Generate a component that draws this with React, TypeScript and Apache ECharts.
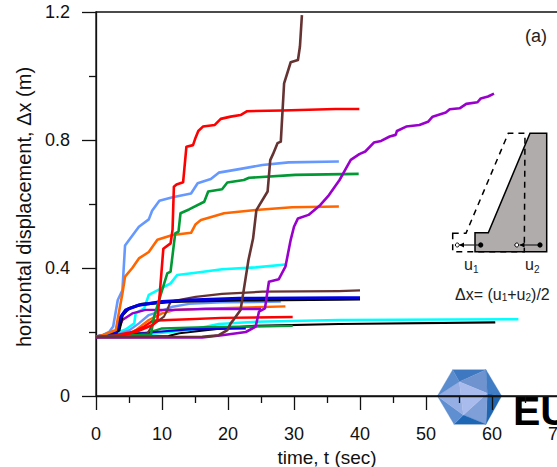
import React, { useEffect, useRef } from "react";
import * as echarts from "echarts";

const FONT = '"Liberation Sans", Arial, sans-serif';

const redLarge = [[0,.185],[2,.187],[4,.19],[6,.2],[8.6,.222],[9.3,.2375],[9.7,.33],[10.2,.46],[11.3,.477],[11.6,.52],[11.8,.654],[12.2,.661],[13.2,.668],[13.7,.779],[14.7,.784],[15.1,.808],[15.5,.828],[16.2,.842],[18,.847],[18.9,.866],[20.4,.873],[21.9,.878],[22.9,.89],[28.2,.892],[36.3,.897],[39.9,.897]];
const lightBlueLarge = [[0,.185],[1,.19],[2,.2],[2.6,.217],[3.3,.3],[4,.33],[4.4,.47],[5.1,.49],[6.5,.529],[8,.552],[8.5,.579],[9.6,.61],[11.6,.621],[14.4,.633],[15.4,.665],[17.4,.678],[18.6,.698],[21.7,.709],[25.2,.722],[29.2,.73],[36.8,.733]];
const greenLarge = [[0,.185],[4,.19],[8.3,.19],[8.8,.248],[9.8,.316],[10.8,.383],[11.3,.389],[12,.508],[12.5,.514],[12.8,.571],[14.1,.583],[16.4,.607],[17,.639],[19.1,.646],[19.9,.667],[22.4,.675],[23.2,.682],[30.2,.691],[39.8,.694]];
const orangeLarge = [[0,.185],[1,.19],[3,.206],[3.5,.264],[4,.32],[4.4,.373],[5.5,.4],[6.5,.43],[8,.45],[9.3,.488],[11.6,.503],[14.4,.51],[15.1,.537],[15.9,.55],[17.6,.56],[19.4,.571],[24.2,.581],[29.7,.59],[36.8,.592]];
const cyanMid = [[0,.185],[2,.19],[4.5,.208],[5.8,.227],[6,.258],[7.3,.274],[8,.316],[9.6,.333],[11.3,.352],[12.3,.378],[15.1,.385],[19.1,.396],[24.2,.402],[28.7,.411]];
const brownThin = [[0,.185],[5,.188],[7.8,.196],[8.6,.222],[10.3,.248],[10.8,.269],[11.3,.295],[15.1,.31],[19.1,.319],[25.2,.326],[36.8,.328],[40,.33]];
const blueThick = [[0,.185],[1.5,.19],[3,.196],[3.6,.243],[4.5,.269],[6.5,.284],[10,.295],[14.1,.3],[21.7,.305],[36.8,.307],[40,.307]];
const blackThick = [[0,.185],[2,.19],[3.5,.206],[4,.253],[5,.274],[7,.287],[11.6,.295],[21.7,.3],[36.8,.302],[40,.303]];
const lightBlueSmall = [[0,.185],[3,.19],[5,.205],[6.5,.227],[8,.253],[9.6,.264],[11.6,.279],[14.1,.288],[19.1,.293],[25.7,.294],[28,.295]];
const orangeSmall = [[0,.185],[2,.188],[4.5,.19],[6,.206],[8,.2375],[10,.258],[12,.269],[16.6,.273],[28.7,.28]];
const purpleSmall = [[0,.185],[3,.19],[3.8,.227],[4,.2375],[5.5,.258],[7.5,.269],[11.6,.269],[16.6,.272],[25,.272]];
const redSmall = [[0,.185],[3,.19],[5.5,.2],[7.3,.217],[8.6,.235],[11,.2375],[14.1,.24],[19,.244],[29.8,.247]];
const cyanLong = [[0,.185],[5,.187],[8.6,.194],[14.1,.206],[18.6,.225],[24.2,.232],[36.8,.2375],[64,.24]];
const blackLong = [[0,.185],[11,.1875],[12.6,.196],[19,.211],[24,.219],[36.8,.225],[60.5,.23]];
const blueMid = [[0,.185],[4,.19],[9,.2],[14,.208],[22.7,.211]];
const greenSmall = [[0,.185],[4,.194],[8,.198],[10,.211],[16.6,.215],[29.8,.219]];
const purpleLarge = [[0,.183],[16.1,.183],[19.1,.19],[22.7,.2],[24.2,.217],[24.7,.264],[25.6,.274],[26.2,.357],[27.7,.365],[28.7,.404],[29.5,.488],[30,.529],[30.6,.555],[32.2,.566],[34,.597],[35.3,.628],[36.9,.675],[37.9,.712],[38.6,.738],[39.9,.756],[40.8,.764],[42.1,.792],[43.2,.797],[44.5,.811],[45.4,.816],[45.6,.828],[47,.842],[49,.847],[50.3,.857],[51,.873],[53,.886],[53.6,.896],[55.1,.899],[56.1,.913],[57.8,.918],[58.3,.93],[59.4,.936],[60.3,.945]];
const brownLarge = [[0,.184],[16.1,.185],[18.6,.19],[19.9,.206],[20.4,.227],[20.9,.24],[21.9,.269],[22.3,.32],[23.1,.425],[23.8,.492],[24.3,.581],[26,.639],[26.4,.737],[26.8,.755],[27.5,.79],[28,.795],[28.5,.977],[29.5,1.043],[30.6,1.05],[30.9,1.092],[31.2,1.19]];

const curves: [any[], string, number][] = [
  [blackLong, "#000000", 2.2],
  [cyanLong, "#00ffff", 2.4],
  [greenSmall, "#009933", 2.4],
  [blueMid, "#0000e0", 2.2],
  [cyanMid, "#00ffff", 2.6],
  [lightBlueSmall, "#6699ff", 2.4],
  [orangeSmall, "#ff6600", 2.4],
  [purpleSmall, "#9900cc", 2.4],
  [redSmall, "#ff0000", 2.4],
  [brownThin, "#663333", 2.2],
  [blackThick, "#000000", 3],
  [blueThick, "#0000e0", 3.2],
  [lightBlueLarge, "#6699ff", 2.6],
  [orangeLarge, "#ff6600", 2.6],
  [greenLarge, "#009933", 2.6],
  [redLarge, "#ff0000", 2.6],
  [purpleLarge, "#9900cc", 2.6],
  [brownLarge, "#663333", 2.6],
];

const logoFacets: [number[][], string][] = [
  [[[68,14],[168,14],[88,50]], "#3d78c0"],
  [[[168,14],[172,85],[88,50]], "#6e93cf"],
  [[[168,14],[215,93],[172,85]], "#3f7cc4"],
  [[[215,93],[168,178],[172,85]], "#1f65b0"],
  [[[172,85],[168,178],[100,150]], "#7f9fd8"],
  [[[168,178],[72,178],[100,150]], "#1d67b5"],
  [[[72,178],[22,93],[100,150]], "#5f8fd0"],
  [[[22,93],[88,50],[100,150]], "#95aee3"],
  [[[88,50],[172,85],[100,150]], "#a9bbec"],
  [[[22,93],[68,14],[88,50]], "#5b8ccd"],
];

export default function App() {
  const ref = useRef<HTMLDivElement>(null);
  useEffect(() => {
    document.body.style.margin = "0";
    const chart = echarts.init(ref.current!, undefined, { renderer: "svg" });
    const tickFont = { fontFamily: FONT, fontSize: 18, color: "#111" };
    const axisStyle = { lineStyle: { color: "#111", width: 1.3 } };
    const lab = (x: number, y: number, t: string, s: number) => ({
      type: "text", x, y, style: { text: t, fontFamily: FONT, fontSize: s, fill: "#222" },
    });
    chart.setOption({
      animation: false,
      backgroundColor: "#fff",
      grid: { left: 96, top: 12, width: 462, height: 384, outerBoundsMode: "none", containLabel: false, show: true, borderColor: "#111", borderWidth: 1.3, backgroundColor: "transparent" },
      xAxis: {
        type: "value", min: 0, max: 70, interval: 10,
        name: "time, t (sec)", nameLocation: "middle", nameGap: 50,
        nameTextStyle: { ...tickFont, fontSize: 19 },
        axisLine: { show: true, ...axisStyle },
        axisTick: { show: true, length: 14, ...axisStyle },
        minorTick: { show: true, splitNumber: 2, length: 7, ...axisStyle },
        splitLine: { show: false },
        axisLabel: { ...tickFont, margin: 29, showMaxLabel: true },
      },
      yAxis: {
        type: "value", min: 0, max: 1.2, interval: 0.4,
        name: "horizontal displacement, \u0394x (m)", nameLocation: "middle", nameGap: 60,
        nameTextStyle: { ...tickFont, fontSize: 20, padding: [0, 6, 0, 0] },
        axisLine: { show: true, ...axisStyle },
        axisTick: { show: true, length: 14, ...axisStyle },
        minorTick: { show: true, splitNumber: 2, length: 7, ...axisStyle },
        splitLine: { show: false },
        axisLabel: { ...tickFont, margin: 26, formatter: (v: number) => (v === 0 ? "0" : v.toFixed(1)) },
      },
      series: curves.map(([data, color, width]) => ({
        type: "line", data, symbol: "none", smooth: false, z: 3,
        lineStyle: { color, width, join: "round" },
      })),
      graphic: [
        ...logoFacets.map(([pts, fill]) => ({
          type: "polygon", z: -5, silent: true,
          shape: { points: pts.map(([a, b]) => [430 + a / 3, 365 + b / 3]) },
          style: { fill, stroke: fill, lineWidth: 0.3 },
        })),
        { type: "text", z: -5, x: 513, y: 390, style: { text: "EU", fontFamily: FONT, fontWeight: "bold", fontSize: 41, fill: "#000" } },
        lab(525, 27, "(a)", 18),
        { type: "polygon", shape: { points: [[475,232.7],[488.3,232.7],[530,133.3],[546.7,133.3],[546.7,251.7],[475,251.7]] }, style: { fill: "#b0acac", stroke: "#000", lineWidth: 1.5 } },
        { type: "polygon", shape: { points: [[452.7,233.3],[466,233.3],[508.3,133.3],[525,133.3],[524.3,251.7],[452.7,251.7]] }, style: { fill: "none", stroke: "#000", lineWidth: 1.5, lineDash: [6, 5] } },
        { type: "line", shape: { x1: 460, y1: 245, x2: 480.7, y2: 245 }, style: { stroke: "#222", lineWidth: 1.2 } },
        { type: "line", shape: { x1: 520, y1: 245, x2: 540, y2: 245 }, style: { stroke: "#222", lineWidth: 1.2 } },
        { type: "polygon", shape: { points: [[459,245],[464,242.5],[464,247.5]] }, style: { fill: "#000" } },
        { type: "polygon", shape: { points: [[519.5,245],[524.5,242.5],[524.5,247.5]] }, style: { fill: "#000" } },
        { type: "circle", shape: { cx: 480.7, cy: 245, r: 2.6 }, style: { fill: "#000" } },
        { type: "circle", shape: { cx: 540, cy: 245, r: 2.6 }, style: { fill: "#000" } },
        { type: "circle", shape: { cx: 457.3, cy: 245, r: 2 }, style: { fill: "#fff", stroke: "#000", lineWidth: 1 } },
        { type: "circle", shape: { cx: 516.8, cy: 245, r: 2 }, style: { fill: "#fff", stroke: "#000", lineWidth: 1 } },
        lab(464, 256, "u", 16),
        lab(473, 264, "1", 10),
        lab(525, 256, "u", 16),
        lab(534, 264, "2", 10),
        {
          type: "text", x: 455, y: 286,
          style: {
            text: "{a|\u0394x= (u}{s|1}{a|+u}{s|2}{a|)/2}",
            rich: {
              a: { fontFamily: FONT, fontSize: 16, fill: "#222" },
              s: { fontFamily: FONT, fontSize: 10, fill: "#222", padding: [6, 0, 0, 0] },
            },
          },
        },
      ],
    });
    return () => chart.dispose();
  }, []);
  return <div ref={ref} style={{ width: 557, height: 467 }} />;
}
